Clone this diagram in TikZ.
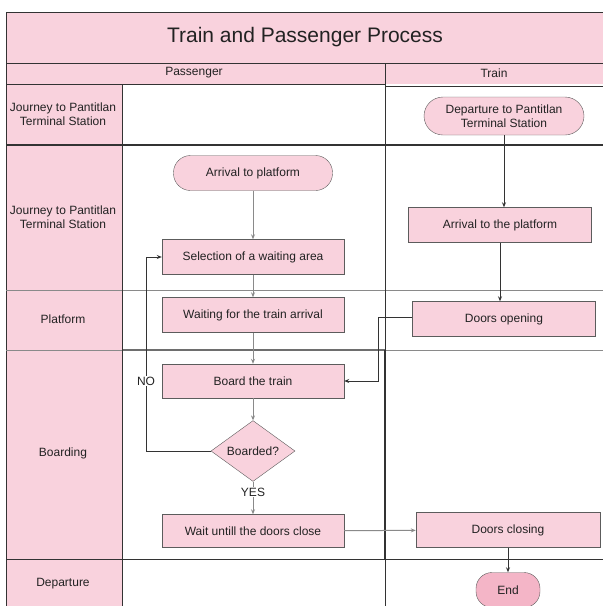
\documentclass[tikz,border=0pt]{standalone}
\usepackage{fontspec}
\setmainfont{Liberation Sans}
\usetikzlibrary{shapes.geometric,arrows.meta}
\definecolor{pinkc}{HTML}{F9D2DD}
\definecolor{pinkd}{HTML}{F4B5C7}
\definecolor{gridc}{HTML}{333333}
\definecolor{grayc}{HTML}{8A8A8A}
\definecolor{txt}{HTML}{222222}
\tikzset{
  proc/.style={rectangle, draw=gridc!80, fill=pinkc, minimum width=182pt, minimum height=35pt, inner sep=0pt, font=\fontsize{12}{14}\selectfont, text=txt},
  term/.style={rectangle, rounded corners=17pt, draw=gridc!80, fill=pinkc, minimum width=159pt, minimum height=35pt, inner sep=0pt, font=\fontsize{12}{14}\selectfont, text=txt, align=center},
  dec/.style={diamond, draw=gridc!80, fill=pinkc, minimum width=84pt, minimum height=60pt, inner sep=0pt, font=\fontsize{12}{14}\selectfont, text=txt},
  lbl/.style={font=\fontsize{12}{14}\selectfont, text=txt, align=center},
  glink/.style={draw=grayc, line width=1pt, -{Stealth[length=5pt,width=4pt]}},
  blink/.style={draw=gridc, line width=0.8pt, -{Stealth[length=5pt,width=4pt]}},
  gline/.style={draw=gridc, line width=0.8pt},
}
\begin{document}
\begin{tikzpicture}[x=1pt,y=-1pt]
\useasboundingbox (0,0) rectangle (603,606);
% backgrounds
\fill[pinkc] (6,12) rectangle (610,63);
\fill[pinkc] (6,63) rectangle (610,84);
\fill[pinkc] (6,84) rectangle (122,610);
% grid
\draw[gline] (6,12) -- (610,12);
\draw[gline] (6,12) -- (6,610);
\draw[gline] (6,63) -- (610,63);
\draw[gline] (6,84) -- (385,84);
\draw[gline] (385,86) -- (610,86);
\draw[gridc, line width=1.4pt] (6,145) -- (610,145);
\draw[grayc, line width=1pt] (6,290) -- (610,290);
\draw[grayc, line width=1pt] (6,350) -- (610,350);
\draw[grayc!80!black, line width=2pt] (122,350) -- (385,350);
\draw[gline] (6,559) -- (610,559);
\draw[gline] (122,84) -- (122,610);
\draw[gline] (385,63) -- (385,350);
\draw[gridc, line width=1.4pt] (385,350) -- (385,559);
\draw[gline] (385,559) -- (385,610);
% headers
\node[lbl, font=\fontsize{21}{25}\selectfont] (title) at (305,37) {Train and Passenger Process};
\node[lbl] (hpass) at (194,73) {Passenger};
\node[lbl] (htrain) at (494,73) {Train};
\node[lbl] (r1) at (63,114) {Journey to Pantitlan\\Terminal Station};
\node[lbl] (r2) at (63,217) {Journey to Pantitlan\\Terminal Station};
\node[lbl] (r3) at (63,319) {Platform};
\node[lbl] (r4) at (63,453) {Boarding};
\node[lbl] (r5) at (63,584) {Departure};
% nodes
\node[term, minimum width=160pt, minimum height=38pt, rounded corners=19pt] (dep) at (504,116) {Departure to Pantitlan\\Terminal Station};
\node[term] (arrp) at (253,173) {Arrival to platform};
\node[proc, minimum width=183pt] (arrt) at (500,225) {Arrival to the platform};
\node[proc] (sel) at (253,257) {Selection of a waiting area};
\node[proc] (wait) at (253,315) {Waiting for the train arrival};
\node[proc, minimum width=183pt] (dopen) at (504,319) {Doors opening};
\node[proc, minimum height=34pt] (board) at (253,381) {Board the train};
\node[dec] (bq) at (253,451) {Boarded?};
\node[proc, minimum height=33pt] (wdc) at (253,531) {Wait untill the doors close};
\node[proc, minimum width=184pt] (dclose) at (508,530) {Doors closing};
\node[term, fill=pinkd, minimum width=64pt, rounded corners=16pt] (endn) at (508,590) {End};
% connectors
\draw[blink] (dep.south) -- (dep.south |- arrt.north);
\draw[glink] (arrp) -- (sel);
\draw[glink] (sel) -- (wait);
\draw[glink] (wait) -- (board);
\draw[blink] (arrt.south) -- (arrt.south |- dopen.north);
\coordinate (dturn) at (378,317);
\draw[blink] (dopen.west |- dturn) -- (dturn) |- (board.east);
\draw[glink] (board) -- (bq);
\coordinate (noturn) at (146,451);
\draw[blink] (bq.west) -- (noturn) |- (sel.west);
\node[lbl, fill=white, inner sep=1pt] (no) at (146,381) {NO};
\draw[glink] (bq.south) -- (wdc.north);
\node[lbl, fill=white, inner sep=1pt] (yes) at (253,492) {YES};
\draw[glink] (wdc) -- (dclose);
\draw[blink] (dclose.south) -- (dclose.south |- endn.north);
\end{tikzpicture}
\end{document}
